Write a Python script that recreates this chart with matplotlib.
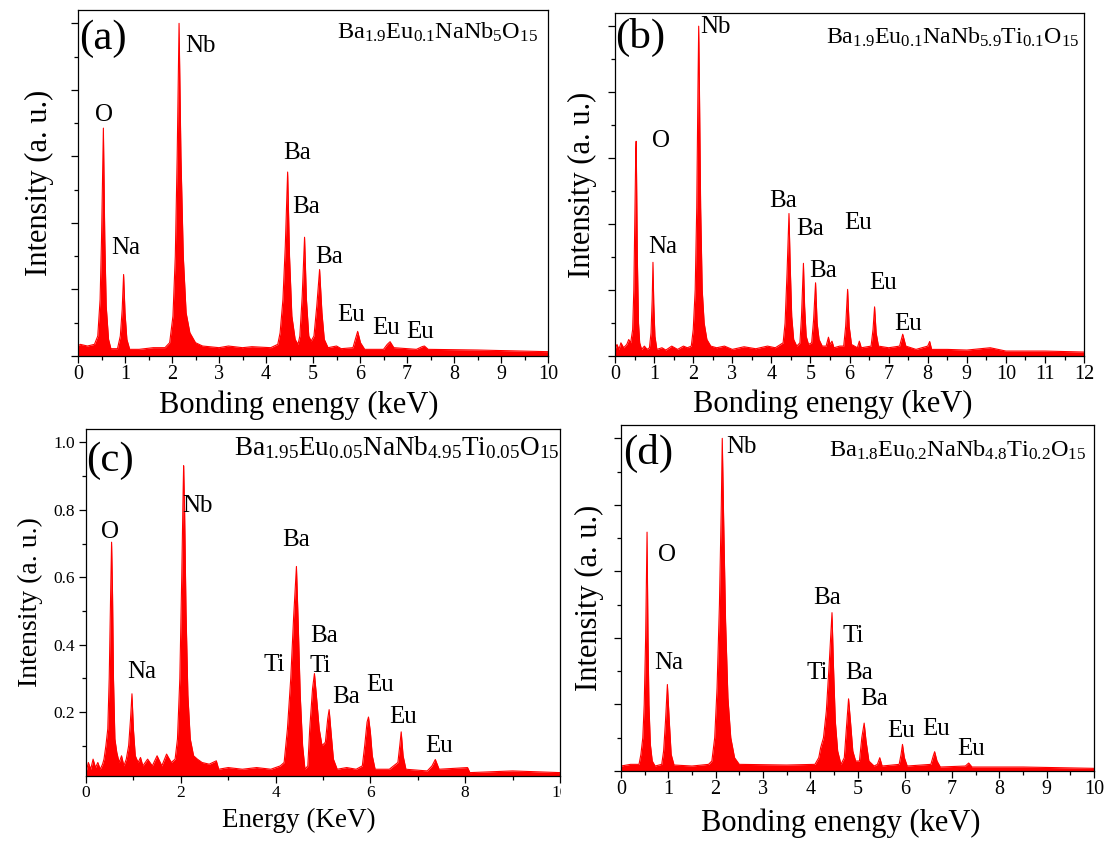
import matplotlib
matplotlib.use("Agg")
import matplotlib.pyplot as plt
import numpy as np
from matplotlib.ticker import MultipleLocator
from matplotlib.transforms import Bbox, TransformedBbox

plt.rcParams["font.family"] = ["Liberation Serif", "DejaVu Serif"]
plt.rcParams["mathtext.fontset"] = "custom"
plt.rcParams["mathtext.rm"] = "Liberation Serif"
plt.rcParams["mathtext.it"] = "Liberation Serif:italic"

# ---- spectra (energy keV, normalised intensity) ----
energy_a = [0.0, 0.05, 0.2, 0.35, 0.42, 0.47, 0.50, 0.54, 0.57, 0.60, 0.65, 0.70,
            0.84, 0.90, 0.94, 0.97, 1.00, 1.04, 1.10, 1.3, 1.6, 1.85,
            1.95, 2.02, 2.07, 2.11, 2.15, 2.19, 2.24, 2.30, 2.38, 2.50, 2.65,
            3.0, 3.2, 3.5, 3.7, 4.1, 4.25,
            4.30, 4.36, 4.41, 4.46, 4.50, 4.55, 4.62, 4.68,
            4.72, 4.77, 4.82, 4.86, 4.91, 4.96,
            5.02, 5.08, 5.14, 5.19, 5.24, 5.32,
            5.5, 5.6, 5.85, 5.90, 5.95, 6.01, 6.1,
            6.5, 6.58, 6.64, 6.72, 7.2, 7.32, 7.37, 7.45, 8.5, 10.0]
counts_a = [0.03, 0.035, 0.03, 0.035, 0.06, 0.17, 0.35, 0.685, 0.35, 0.15, 0.05, 0.022,
            0.022, 0.06, 0.14, 0.245, 0.13, 0.05, 0.02, 0.02, 0.025, 0.025,
            0.04, 0.12, 0.30, 0.60, 1.0, 0.60, 0.30, 0.13, 0.07, 0.04, 0.03,
            0.025, 0.03, 0.025, 0.028, 0.025, 0.035,
            0.07, 0.17, 0.33, 0.553, 0.30, 0.12, 0.05, 0.035,
            0.06, 0.18, 0.357, 0.17, 0.06, 0.045,
            0.06, 0.15, 0.26, 0.13, 0.05, 0.025,
            0.03, 0.022, 0.025, 0.05, 0.074, 0.04, 0.02,
            0.02, 0.035, 0.043, 0.025, 0.02, 0.028, 0.03, 0.02, 0.018, 0.013]

energy_b = [0.0, 0.05, 0.1, 0.15, 0.22, 0.3, 0.35,
            0.40, 0.45, 0.48, 0.51, 0.53, 0.54, 0.55, 0.57, 0.60, 0.63, 0.68,
            0.75, 0.82, 0.88, 0.92, 0.95, 0.97, 0.99, 1.02, 1.07,
            1.2, 1.3, 1.45, 1.6, 1.75, 1.85,
            1.95, 2.0, 2.05, 2.09, 2.12, 2.14, 2.16, 2.19, 2.23, 2.28, 2.35, 2.45,
            2.6, 2.8, 3.0, 3.3, 3.6, 3.9, 4.1,
            4.30, 4.35, 4.40, 4.45, 4.48, 4.52, 4.57, 4.65,
            4.73, 4.77, 4.82, 4.85, 4.89, 4.95,
            5.03, 5.08, 5.13, 5.17, 5.22, 5.30,
            5.40, 5.46, 5.50, 5.55, 5.60, 5.75,
            5.85, 5.90, 5.95, 5.99, 6.05, 6.2, 6.25, 6.3,
            6.55, 6.60, 6.64, 6.68, 6.74, 7.0,
            7.28, 7.36, 7.44, 7.7, 8.0, 8.05, 8.1, 8.5, 9.0, 9.6, 10.0, 11.0, 12.0]
counts_b = [0.02, 0.035, 0.02, 0.04, 0.025, 0.035, 0.05,
            0.04, 0.08, 0.20, 0.45, 0.62, 0.651, 0.55, 0.30, 0.10, 0.04, 0.02,
            0.03, 0.02, 0.025, 0.07, 0.17, 0.284, 0.16, 0.06, 0.02,
            0.025, 0.018, 0.03, 0.02, 0.03, 0.025,
            0.03, 0.08, 0.20, 0.45, 0.80, 1.0, 0.80, 0.45, 0.20, 0.10, 0.05, 0.03,
            0.025, 0.03, 0.02, 0.028, 0.022, 0.03, 0.025,
            0.04, 0.10, 0.25, 0.432, 0.28, 0.12, 0.05, 0.03,
            0.04, 0.12, 0.281, 0.15, 0.06, 0.035,
            0.04, 0.11, 0.222, 0.10, 0.05, 0.03,
            0.03, 0.057, 0.035, 0.045, 0.025, 0.03,
            0.03, 0.09, 0.202, 0.09, 0.035, 0.025, 0.045, 0.025,
            0.03, 0.08, 0.149, 0.07, 0.03, 0.025,
            0.03, 0.066, 0.03, 0.02, 0.03, 0.044, 0.02, 0.02, 0.018, 0.025, 0.015, 0.015, 0.012]

energy_c = [0.0, 0.05, 0.1, 0.15, 0.2, 0.25, 0.3, 0.35,
            0.38, 0.42, 0.46, 0.49, 0.52, 0.54, 0.56, 0.58, 0.61, 0.65, 0.70, 0.75, 0.80,
            0.85, 0.90, 0.94, 0.97, 1.00, 1.04, 1.10, 1.15, 1.2, 1.3, 1.4, 1.5, 1.6, 1.7, 1.8,
            1.88, 1.93, 1.98, 2.02, 2.05, 2.06, 2.08, 2.11, 2.15, 2.20, 2.27, 2.35, 2.45,
            2.6, 2.75, 2.8, 3.0, 3.3, 3.6, 3.9, 4.1,
            4.18, 4.25, 4.32, 4.38, 4.44, 4.48, 4.52, 4.57, 4.62, 4.68,
            4.72, 4.78, 4.82, 4.86, 4.92, 4.98, 5.05,
            5.10, 5.13, 5.17, 5.22, 5.30, 5.5, 5.7, 5.83,
            5.88, 5.93, 5.96, 6.00, 6.04, 6.10, 6.4,
            6.58, 6.62, 6.65, 6.69, 6.75, 7.2,
            7.30, 7.37, 7.45, 8.05, 8.1, 9.0, 10.0]
counts_c = [0.02, 0.05, 0.03, 0.06, 0.035, 0.05, 0.03, 0.045,
            0.06, 0.10, 0.15, 0.30, 0.55, 0.704, 0.55, 0.30, 0.12, 0.08, 0.05, 0.07, 0.04,
            0.06, 0.10, 0.18, 0.254, 0.15, 0.07, 0.05, 0.065, 0.04, 0.06, 0.04, 0.07, 0.04, 0.075, 0.05,
            0.06, 0.12, 0.30, 0.60, 0.86, 0.931, 0.80, 0.50, 0.25, 0.12, 0.07, 0.06, 0.05,
            0.045, 0.055, 0.03, 0.035, 0.03, 0.035, 0.03, 0.04,
            0.05, 0.15, 0.30, 0.48, 0.632, 0.45, 0.25, 0.10, 0.03, 0.04,
            0.15, 0.27, 0.314, 0.25, 0.15, 0.10, 0.11,
            0.18, 0.207, 0.14, 0.06, 0.03, 0.035, 0.03, 0.04,
            0.10, 0.17, 0.185, 0.14, 0.07, 0.03, 0.03,
            0.05, 0.10, 0.141, 0.07, 0.03, 0.025,
            0.04, 0.059, 0.03, 0.035, 0.02, 0.025, 0.02]

energy_d = [0.0, 0.2, 0.38,
            0.42, 0.46, 0.49, 0.52, 0.55, 0.57, 0.59, 0.62, 0.66, 0.72,
            0.86, 0.90, 0.94, 0.98, 1.02, 1.06, 1.12, 1.5, 1.85,
            1.92, 1.98, 2.03, 2.08, 2.12, 2.14, 2.17, 2.21, 2.26, 2.32, 2.40, 2.5, 3.5, 4.1,
            4.18, 4.22, 4.28, 4.34, 4.40, 4.46, 4.49, 4.53, 4.58, 4.65,
            4.72, 4.76, 4.81, 4.85, 4.90, 4.96,
            5.04, 5.09, 5.14, 5.18, 5.24, 5.35,
            5.42, 5.47, 5.52,
            5.88, 5.92, 5.95, 5.99, 6.05,
            6.55, 6.60, 6.63, 6.68, 6.75,
            7.28, 7.35, 7.42, 8.5, 10.0]
counts_d = [0.015, 0.02, 0.02,
            0.05, 0.10, 0.20, 0.40, 0.718, 0.40, 0.20, 0.08, 0.03, 0.015,
            0.02, 0.06, 0.15, 0.26, 0.15, 0.05, 0.018, 0.015, 0.02,
            0.03, 0.10, 0.25, 0.50, 0.80, 1.0, 0.75, 0.45, 0.22, 0.10, 0.04, 0.02, 0.018, 0.02,
            0.04, 0.07, 0.10, 0.18, 0.32, 0.476, 0.32, 0.15, 0.06, 0.02,
            0.04, 0.12, 0.217, 0.15, 0.06, 0.03,
            0.03, 0.10, 0.144, 0.09, 0.03, 0.015,
            0.02, 0.04, 0.015,
            0.02, 0.05, 0.08, 0.04, 0.015,
            0.02, 0.045, 0.058, 0.03, 0.012,
            0.015, 0.024, 0.012, 0.012, 0.008]

formula_a = r"$\mathrm{Ba_{1.9}Eu_{0.1}NaNb_{5}O_{15}}$"
formula_b = r"$\mathrm{Ba_{1.9}Eu_{0.1}NaNb_{5.9}Ti_{0.1}O_{15}}$"
formula_c = r"$\mathrm{Ba_{1.95}Eu_{0.05}NaNb_{4.95}Ti_{0.05}O_{15}}$"
formula_d = r"$\mathrm{Ba_{1.8}Eu_{0.2}NaNb_{4.8}Ti_{0.2}O_{15}}$"

# peak labels: (text, energy, intensity) where the label centre sits
peaks_a = [("O", 0.55, 0.725), ("Na", 1.02, 0.326), ("Nb", 2.60, 0.932),
           ("Ba", 4.66, 0.609), ("Ba", 4.86, 0.447), ("Ba", 5.35, 0.299),
           ("Eu", 5.81, 0.124), ("Eu", 6.55, 0.084), ("Eu", 7.27, 0.072)]
peaks_b = [("Nb", 2.58, 0.998), ("O", 1.18, 0.651), ("Na", 1.23, 0.33),
           ("Ba", 4.29, 0.47), ("Ba", 5.00, 0.386), ("Eu", 6.22, 0.404),
           ("Ba", 5.33, 0.258), ("Eu", 6.86, 0.222), ("Eu", 7.50, 0.098)]
peaks_c = [("O", 0.51, 0.733), ("Nb", 2.35, 0.812), ("Na", 1.17, 0.318),
           ("Ba", 4.43, 0.711), ("Ba", 5.03, 0.427), ("Ti", 3.98, 0.338),
           ("Ti", 4.94, 0.335), ("Ba", 5.49, 0.244), ("Eu", 6.20, 0.279),
           ("Eu", 6.70, 0.185), ("Eu", 7.46, 0.098)]
peaks_d = [("Nb", 2.54, 0.973), ("O", 0.98, 0.648), ("Na", 1.01, 0.326),
           ("Ba", 4.36, 0.521), ("Ti", 4.90, 0.405), ("Ti", 4.14, 0.294),
           ("Ba", 5.04, 0.296), ("Ba", 5.34, 0.215), ("Eu", 5.93, 0.119),
           ("Eu", 6.67, 0.126), ("Eu", 7.40, 0.065)]

fig = plt.figure(figsize=(11.08, 8.43), dpi=100)

panels = [
    dict(rect=[0.0704, 0.5777, 0.4242, 0.4104], e=energy_a, c=counts_a, xmax=10,
         formula=formula_a, fs=17.5, fy=0.917, fx=0.978, peaks=peaks_a,
         tag="(a)", tagxy=(0.54, 0.955),
         xlabel="Bonding enengy (keV)", xl=(0.47, -0.142), yl=(-0.081, 0.5)),
    dict(rect=[0.5551, 0.5777, 0.4233, 0.4069], e=energy_b, c=counts_b, xmax=12,
         formula=formula_b, fs=17.2, fy=0.911, fx=0.99, peaks=peaks_b,
         tag="(b)", tagxy=(0.64, 0.965),
         xlabel="Bonding enengy (keV)", xl=(0.465, -0.142), yl=(-0.07, 0.5)),
    dict(rect=[0.0776, 0.0795, 0.4278, 0.4116], e=energy_c, c=counts_c, xmax=10,
         formula=formula_c, fs=19.5, fy=0.925, fx=1.0, peaks=peaks_c,
         tag="(c)", tagxy=(0.50, 0.945),
         xlabel="Energy (KeV)", xl=(0.449, -0.127), yl=(-0.118, 0.5)),
    dict(rect=[0.5605, 0.0854, 0.4269, 0.4104], e=energy_d, c=counts_d, xmax=10,
         formula=formula_d, fs=17.5, fy=0.908, fx=0.983, peaks=peaks_d,
         tag="(d)", tagxy=(0.58, 0.955),
         xlabel="Bonding enengy (keV)", xl=(0.465, -0.15), yl=(-0.066, 0.5)),
]

for i, p in enumerate(panels):
    ax = fig.add_axes(p["rect"])
    e = np.array(p["e"])
    c = np.array(p["c"])
    ax.fill_between(e, c, 0, color="red", lw=0)
    ax.plot(e, c, color="red", lw=0.8)
    small = i == 2
    ax.set_xlim(0, p["xmax"])
    ax.set_ylim(0.01 if small else 0.0, 1.04)

    if small:
        ax.xaxis.set_major_locator(MultipleLocator(2))
        ax.xaxis.set_minor_locator(MultipleLocator(1))
        ax.set_yticks([0.2, 0.4, 0.6, 0.8, 1.0])
        ax.yaxis.set_minor_locator(MultipleLocator(0.1))
        ax.tick_params(axis="both", which="major", labelsize=12.5)
        ax.tick_params(axis="y", which="major", pad=3)
    else:
        ax.xaxis.set_major_locator(MultipleLocator(1))
        ax.xaxis.set_minor_locator(MultipleLocator(0.5))
        ax.yaxis.set_major_locator(MultipleLocator(0.2))
        ax.yaxis.set_minor_locator(MultipleLocator(0.1))
        ax.tick_params(axis="y", which="both", labelleft=False)
        ax.tick_params(axis="x", which="major", labelsize=14.5)
    ax.tick_params(axis="both", which="major", direction="out", length=5, width=0.9)
    ax.tick_params(axis="both", which="minor", direction="out", length=2.8, width=0.9)
    ax.tick_params(axis="x", which="major", pad=1.5)
    for s in ax.spines.values():
        s.set_linewidth(0.9)

    ax.set_xlabel(p["xlabel"], fontsize=19.5 if small else 22)
    ax.set_ylabel("Intensity (a. u.)", fontsize=20 if small else 22)
    ax.xaxis.set_label_coords(*p["xl"])
    ax.xaxis.label.set_va("center")
    ax.yaxis.set_label_coords(*p["yl"])
    ax.yaxis.label.set_va("center")

    ax.text(*p["tagxy"], p["tag"], fontsize=31, ha="center", va="center")
    ax.text(p["fx"], p["fy"], p["formula"], fontsize=p["fs"], ha="right",
            va="baseline", transform=ax.transAxes)
    for name, x, y in p["peaks"]:
        ax.text(x, y, name, fontsize=18, ha="center", va="center")

    if small:
        clip = TransformedBbox(Bbox([[0, 0], [0.506, 1]]), fig.transFigure)
        for lbl in ax.get_xticklabels():
            lbl.set_clip_on(True)
            lbl.set_clip_box(clip)

fig.savefig("out.png", dpi=100)
